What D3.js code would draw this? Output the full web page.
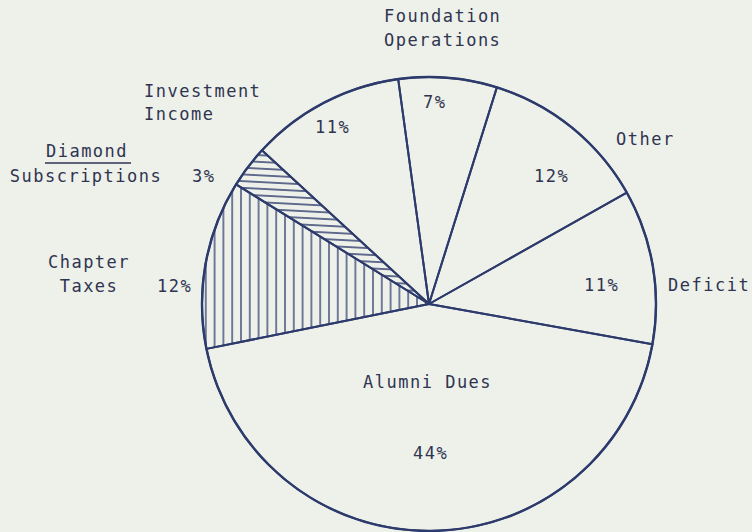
<!DOCTYPE html>
<meta charset="utf-8">
<style>
    body { margin: 0; background: #eef0ea; }
    svg { display: block; }
    .lbl { font: 17px "DejaVu Sans Mono", monospace; letter-spacing: 1.5px; fill: #2f3550; }
</style>
<svg id="chart" width="752" height="532"></svg>
<script src="https://cdn.jsdelivr.net/npm/d3@7"></script>
<script>

    // slices, clockwise from the top
    var categories = ["Foundation Operations", "Other", "Deficit", "Alumni Dues",
        "Chapter Taxes", "Diamond Subscriptions", "Investment Income"];
    var percents = [7, 12, 11, 44, 12, 3, 11];

    var ink = "#2d3b6c",
        cx = 429, cy = 304, radius = 227,
        startDeg = -7.8;

    var hatchOf = {"Chapter Taxes": "url(#vert)", "Diamond Subscriptions": "url(#horiz)"};

    // label text positions (baseline, px)
    var labelLayout = [
        {t: "Foundation", x: 384, y: 22, a: "start"},
        {t: "Operations", x: 384, y: 46, a: "start"},
        {t: "7%", x: 423, y: 108, a: "start"},
        {t: "Other", x: 616, y: 145, a: "start"},
        {t: "12%", x: 534, y: 182, a: "start"},
        {t: "11%", x: 584, y: 291, a: "start"},
        {t: "Deficit", x: 668, y: 291, a: "start"},
        {t: "Alumni Dues", x: 363, y: 388, a: "start"},
        {t: "44%", x: 413, y: 459, a: "start"},
        {t: "Chapter", x: 89, y: 268, a: "middle"},
        {t: "Taxes", x: 89, y: 292, a: "middle"},
        {t: "12%", x: 157, y: 292, a: "start"},
        {t: "Diamond", x: 87, y: 157, a: "middle"},
        {t: "Subscriptions", x: 86, y: 182, a: "middle"},
        {t: "3%", x: 192, y: 182, a: "start"},
        {t: "Investment", x: 144, y: 97, a: "start"},
        {t: "Income", x: 144, y: 120, a: "start"},
        {t: "11%", x: 315, y: 133, a: "start"}
    ];

    var svg = d3.select("#chart");

    var defs = svg.append("defs");
    defs.append("pattern")
        .attr("id", "vert")
        .attr("patternUnits", "userSpaceOnUse")
        .attr("width", 8.8).attr("height", 20)
        .attr("x", 207)
        .append("line")
        .attr("x1", 1).attr("x2", 1).attr("y1", 0).attr("y2", 20)
        .attr("stroke", ink).attr("stroke-width", 1.3);
    defs.append("pattern")
        .attr("id", "horiz")
        .attr("patternUnits", "userSpaceOnUse")
        .attr("width", 40).attr("height", 6.7)
        .attr("patternTransform", "rotate(3)")
        .append("line")
        .attr("x1", 0).attr("x2", 40).attr("y1", 1).attr("y2", 1)
        .attr("stroke", ink).attr("stroke-width", 1.3);

    var pie = d3.pie()
        .sort(null)
        .value(function (d) { return d; })
        .startAngle(startDeg * Math.PI / 180)
        .endAngle(startDeg * Math.PI / 180 + 2 * Math.PI);

    var arc = d3.arc().innerRadius(0).outerRadius(radius);

    var g = svg.append("g").attr("transform", "translate(" + cx + "," + cy + ")");

    g.selectAll("path.slice")
        .data(pie(percents))
        .enter().append("path")
        .attr("class", "slice")
        .attr("d", arc)
        .attr("fill", function (d, i) { return hatchOf[categories[i]] || "none"; })
        .attr("stroke", ink)
        .attr("stroke-width", 2)
        .attr("stroke-linejoin", "round");

    g.append("circle")
        .attr("r", radius)
        .attr("fill", "none")
        .attr("stroke", ink)
        .attr("stroke-width", 2.4);

    svg.selectAll("text.lbl")
        .data(labelLayout)
        .enter().append("text")
        .attr("class", "lbl")
        .attr("x", function (d) { return d.x; })
        .attr("y", function (d) { return d.y; })
        .attr("text-anchor", function (d) { return d.a; })
        .text(function (d) { return d.t; });

    // underline under "Diamond"
    svg.append("line")
        .attr("x1", 45).attr("x2", 131)
        .attr("y1", 163).attr("y2", 163)
        .attr("stroke", "#2f3550").attr("stroke-width", 1.6);

</script>
